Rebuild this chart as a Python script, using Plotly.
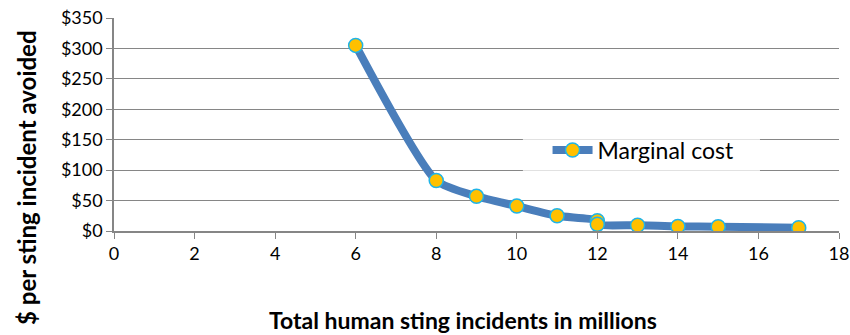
import plotly.graph_objects as go

# Marginal cost of avoiding a sting incident vs. total incidents (millions)
incidents = [6, 8, 9, 10, 11, 12, 12, 13, 14, 15, 17]
marginal_cost = [305, 83, 57, 41, 25, 17, 11, 9.5, 7.5, 7, 5.5]

font_family = "Lato, 'Open Sans', sans-serif"
axis_grey = "#868686"

fig = go.Figure()
fig.add_trace(go.Scatter(
    x=incidents,
    y=marginal_cost,
    mode="lines+markers",
    name="Marginal cost",
    line=dict(color="#4A7EBB", width=8, shape="spline", smoothing=0.6),
    marker=dict(size=14, color="#FFC000", line=dict(color="#1FB4E8", width=1.5)),
))

fig.update_layout(
    width=850,
    height=335,
    margin=dict(l=114, r=11, t=18, b=104),
    paper_bgcolor="white",
    plot_bgcolor="white",
    font=dict(family=font_family, size=18, color="#000000"),
    showlegend=True,
    legend=dict(
        x=0.598, y=0.38, xanchor="left", yanchor="middle",
        bgcolor="rgba(255,255,255,0)",
        font=dict(size=23, family=font_family),
        itemwidth=40,
        borderwidth=0,
    ),
    # translucent panel behind the legend entry
    shapes=[dict(
        type="rect", xref="paper", yref="paper",
        x0=0.564, x1=0.891, y0=0.28, y1=0.434,
        fillcolor="rgba(255,255,255,0.75)", line=dict(width=0),
        layer="above",
    )],
    xaxis=dict(
        range=[0, 18], dtick=2, tick0=0,
        showgrid=False, zeroline=False, automargin=False,
        showline=True, linecolor=axis_grey, linewidth=1.5,
        ticks="outside", ticklen=6, tickcolor=axis_grey,
        tickfont=dict(size=18),
    ),
    yaxis=dict(
        range=[0, 350], dtick=50, tick0=0, tickprefix="$",
        showgrid=True, gridcolor=axis_grey, gridwidth=1.2,
        zeroline=False, automargin=False,
        showline=True, linecolor=axis_grey, linewidth=1.5,
        ticks="outside", ticklen=6, tickcolor=axis_grey,
        tickfont=dict(size=18),
    ),
    annotations=[
        dict(
            text="<b>Total human sting incidents in millions</b>",
            xref="paper", yref="paper", x=0.481, y=-0.418,
            xanchor="center", yanchor="middle",
            showarrow=False, font=dict(size=23),
        ),
        dict(
            text="<b>$ per sting incident avoided</b>",
            xref="paper", yref="paper", x=-0.12, y=0.249,
            xanchor="center", yanchor="middle", textangle=-90,
            showarrow=False, font=dict(size=24),
        ),
    ],
)

fig.write_html("out.html")
